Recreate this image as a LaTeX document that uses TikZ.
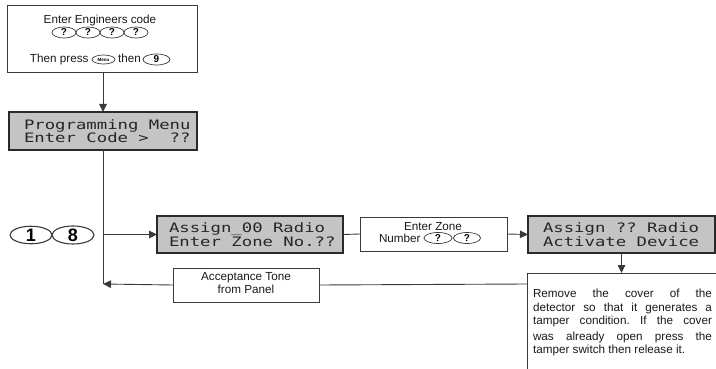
\documentclass[tikz,border=0pt]{standalone}
\usepackage{fontspec}
\setmainfont{Liberation Sans}
\newfontfamily\lcdfont[FakeStretch=1.33]{DejaVu Sans Mono}
\usetikzlibrary{arrows.meta,shapes.geometric,calc}
\definecolor{lcdgray}{HTML}{C4C4C4}
\definecolor{lcdedge}{HTML}{2A2A2A}
\definecolor{linegray}{HTML}{3A3A3A}
\frenchspacing
\begin{document}
\begin{tikzpicture}[x=1pt,y=-1pt,
  every node/.style={inner sep=0pt, outer sep=0pt},
  frame/.style={draw=linegray, line width=0.9pt, anchor=north west},
  lcd/.style={draw=lcdedge, fill=lcdgray, line width=1.8pt, anchor=north west},
  lcdtext/.style={font=\lcdfont\fontsize{13}{12}\selectfont, align=left, text=black!85, anchor=west},
  lbl/.style={font=\fontsize{11.7}{13}\selectfont, text=black!90},
  key/.style={ellipse, draw=linegray, line width=0.7pt, font=\bfseries\fontsize{10}{10}\selectfont},
  bigkey/.style={ellipse, draw=linegray, line width=1.1pt, font=\bfseries\fontsize{18}{18}\selectfont, minimum width=42pt, minimum height=17pt},
  conn/.style={draw=linegray, line width=0.9pt},
  arr/.style={conn, -{Triangle[length=8pt,width=7.5pt]}}]

\useasboundingbox (0,0) rectangle (716,369);

% engineer code box
\node[frame, minimum width=190pt, minimum height=67pt] (eng) at (7,5) {};
\node[lbl, anchor=base] (engt) at (100,24) {Enter Engineers code};
\node[key, minimum width=24pt, minimum height=11pt] (q1) at (64,32.5) {?};
\node[key, minimum width=24pt, minimum height=11pt] (q2) at (88,32.5) {?};
\node[key, minimum width=24pt, minimum height=11pt] (q3) at (112,32.5) {?};
\node[key, minimum width=24pt, minimum height=11pt] (q4) at (136,32.5) {?};
\node[lbl, anchor=base west] (tp) at (30,63) {Then press};
\node[key, minimum width=23pt, minimum height=9pt, font=\bfseries\fontsize{4.5}{5}\selectfont] (menu) at (103.5,59.5) {Menu};
\node[lbl, anchor=base west] (then) at (118,63) {then};
\node[key, minimum width=27pt, minimum height=11pt] (k9) at (156.5,59.5) {9};

% LCD boxes
\node[lcd, minimum width=188pt, minimum height=38pt] (lcd1) at (9,112) {};
\node[lcdtext] (lcd1t) at (24,131) {Programming Menu\\Enter Code >~~??};

\node[lcd, minimum width=186pt, minimum height=37pt] (lcd2) at (157,216) {};
\node[lcdtext] (lcd2t) at (169,234.5) {Assign\_00 Radio\\Enter Zone No.??};

\node[lcd, minimum width=187pt, minimum height=37pt] (lcd3) at (528,216) {};
\node[lcdtext] (lcd3t) at (543,234.5) {Assign ?? Radio\\Activate Device};

% keys 1 8
\node[bigkey] (k1) at (31,235) {1};
\node[bigkey] (k8) at (73,235) {8};

% zone box
\node[frame, minimum width=147pt, minimum height=34pt] (zone) at (360,217) {};
\node[lbl, anchor=base] (zt1) at (433,230) {Enter Zone};
\node[lbl, anchor=base west] (zt2) at (379,242) {Number};
\node[key, minimum width=28pt, minimum height=11pt] (z1) at (438,238) {?};
\node[key, minimum width=27pt, minimum height=11pt] (z2) at (467,238) {?};

% acceptance box
\node[frame, minimum width=146pt, minimum height=34pt] (acc) at (173,268) {};
\node[lbl, anchor=base] (at1) at (246,280) {Acceptance Tone};
\node[lbl, anchor=base] (at2) at (246,293) {from Panel};

% instruction text box (partly outside the picture)
\coordinate (tbTL) at (527,273);
\coordinate (tbBL) at (527,369);
\coordinate (tbTR) at (716,273);
\draw[conn] (tbBL) -- (tbTL) -- (tbTR);
\node[lbl, anchor=base west] (r1) at (533,297) {\makebox[179pt][s]{Remove the cover of the}};
\node[lbl, anchor=base west] (r2) at (533,311) {\makebox[179pt][s]{detector so that it generates a}};
\node[lbl, anchor=base west] (r3) at (533,324) {\makebox[179pt][s]{tamper condition. If the cover}};
\node[lbl, anchor=base west] (r4) at (533,340) {\makebox[179pt][s]{was already open press the}};
\node[lbl, anchor=base west] (r5) at (533,353) {tamper switch then release it.};

% connectors
\coordinate (spine) at (103,0);
\coordinate (ret) at (103,284);
\draw[arr] (eng.south -| spine) -- (lcd1.north -| spine);
\draw[conn] (lcd1.south -| spine) -- (ret);
\draw[arr] (spine |- lcd2.west) -- (lcd2.west);
\draw[conn] (lcd2.east) -- (zone.west);
\draw[arr] (zone.east) -- (lcd3.west);
\draw[arr] (lcd3.south) -- (lcd3.south |- tbTL);
\draw[conn] (tbTL |- ret) -- (acc.east);
\draw[arr] (acc.west) -- (ret);
\end{tikzpicture}
\end{document}
